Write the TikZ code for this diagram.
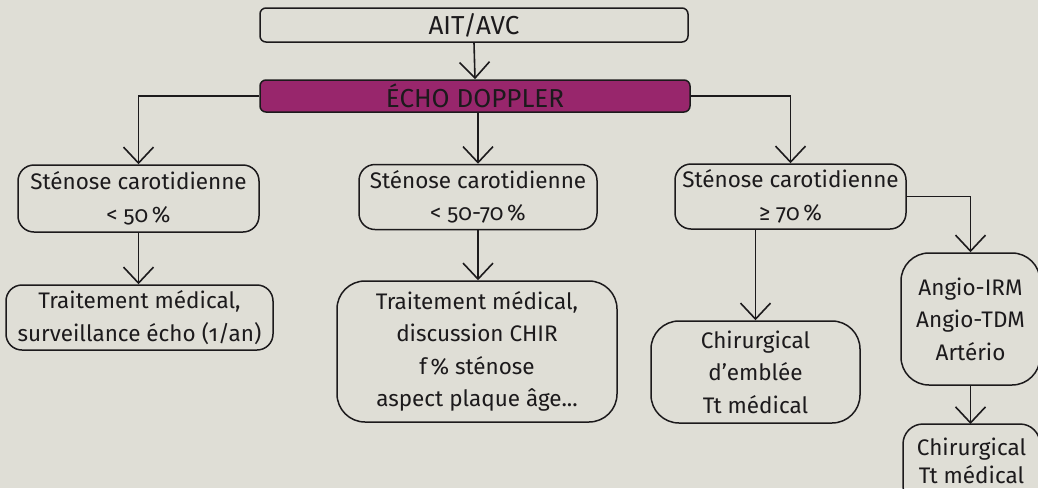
\documentclass[tikz,border=0pt]{standalone}
\usepackage{fontspec}
\setmainfont{Fira Sans}[Numbers=OldStyle]
\usetikzlibrary{arrows.meta}
\definecolor{bg}{RGB}{223,222,214}
\definecolor{echofill}{RGB}{152,38,108}
\definecolor{ink}{RGB}{28,26,28}
\begin{document}
\begin{tikzpicture}[x=1pt,y=-1pt,
  box/.style={draw=ink, line width=1.5pt, rounded corners=#1, inner sep=0pt,
    align=center, text=ink, font=\fontsize{22.5}{32.5}\selectfont},
  box/.default=16pt,
  title/.style={font=\fontsize{26}{30}\selectfont},
  conn/.style={draw=ink, line width=1.6pt,
    -{Straight Barb[length=16pt,width=30pt]}}
]
\fill[bg] (0,0) rectangle (1038,488);
\useasboundingbox (0,0) rectangle (1038,488);
\begin{scope}
\clip (0,0) rectangle (1038,488);
% nodes
\node[box=6pt, title, minimum width=428pt, minimum height=34pt] (ait) at (474,25) {AIT/AVC};
\node[box=6pt, title, fill=echofill, minimum width=430pt, minimum height=32pt] (echo) at (475,96) {ÉCHO DOPPLER};

\node[box, minimum width=241pt, minimum height=67pt] (s1) at (138.5,198.5) {Sténose carotidienne\\< 50\,\%};
\node[box, minimum width=238pt, minimum height=65pt] (s2) at (478,197) {Sténose carotidienne\\< 50-70\,\%};
\node[box, minimum width=231pt, minimum height=65pt] (s3) at (790.5,196.5) {Sténose carotidienne\\≥ 70\,\%};

\node[box, minimum width=267pt, minimum height=65pt] (t1) at (139.5,317.5) {Traitement médical,\\surveillance écho (1/an)};
\node[box=28pt, minimum width=280pt, minimum height=141pt] (t2) at (477,351.5) {Traitement médical,\\discussion CHIR\\f\,\% sténose\\aspect plaque âge...};
\node[box=28pt, minimum width=209pt, minimum height=102pt] (c3) at (755.5,372) {Chirurgical\\d’emblée\\Tt médical};
\node[box=28pt, minimum width=139pt, minimum height=132pt] (angio) at (970.5,319) {Angio-IRM\\Angio-TDM\\Artério};
% last box: its lower part lies below the page edge, as in the reference
\draw[draw=ink, line width=1.5pt, rounded corners=20pt] (903,424) rectangle (1040,506);
\coordinate (c4top) at (970.5,424);
\node[inner sep=0pt, align=center, text=ink, font=\fontsize{22.5}{28}\selectfont] (c4) at (971.5,461) {Chirurgical\\Tt médical};

% connectors
\draw[conn] (ait.south) -- (echo.north);
\draw[conn] (echo.west) -| (s1.north);
\draw[conn] (s2.north |- echo.south) -- (s2.north);
\draw[conn] (echo.east) -| (s3.north);
\draw[conn] (s1.south) -- (s1.south |- t1.north);
\draw[conn] (s2.south) -- (s2.south |- t2.north);
\draw[conn] (c3.north |- s3.south) -- (c3.north);
\draw[conn] (s3.east) -| (angio.north);
\draw[conn] (angio.south) -- (c4top);
\end{scope}
\end{tikzpicture}
\end{document}
